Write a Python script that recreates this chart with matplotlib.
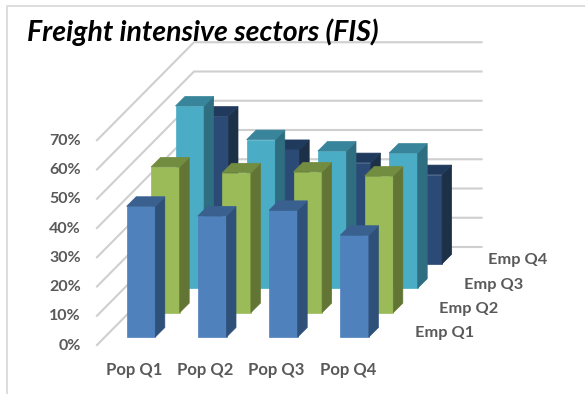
import matplotlib
matplotlib.use('Agg')
import matplotlib.pyplot as plt
from matplotlib.patches import Polygon

plt.rcParams['font.family'] = ['Lato', 'DejaVu Sans']

columns = ['Pop Q1', 'Pop Q2', 'Pop Q3', 'Pop Q4']
rows = ['Emp Q1', 'Emp Q2', 'Emp Q3', 'Emp Q4']
ticks = [0, 10, 20, 30, 40, 50, 60, 70]

emp_q1 = [44.7, 41.4, 43.3, 34.8]
emp_q2 = [49.8, 47.8, 48.1, 46.7]
emp_q3 = [62.3, 50.8, 46.9, 46.2]
emp_q4 = [50.5, 39.1, 34.6, 30.5]
series = [emp_q1, emp_q2, emp_q3, emp_q4]

# front, side and top colour of each row
colors = [('#4F81BD', '#2F5078', '#3A6090'),
          ('#9BBB59', '#637534', '#728C40'),
          ('#4BACC6', '#2E6E80', '#38849A'),
          ('#2B4A75', '#1C3048', '#1F3A5C')]

# oblique projection, in pixels
COL_STEP = 71.2
ROW_STEP = 24.4
BAR_W = 28.6
DEPTH = 9.5
UNIT = 2.925
X0, Y0 = 126.7, 337.0


def corner(col, row, value):
    x = X0 + col * COL_STEP + row * ROW_STEP
    y = Y0 - row * ROW_STEP - value * UNIT
    return x, y


def bar(ax, col, row, value, cols):
    x, y = corner(col, row, value)
    _, base = corner(col, row, 0)
    front = [(x, y), (x + BAR_W, y), (x + BAR_W, base), (x, base)]
    side = [(x + BAR_W, y), (x + BAR_W + DEPTH, y - DEPTH),
            (x + BAR_W + DEPTH, base - DEPTH), (x + BAR_W, base)]
    top = [(x, y), (x + DEPTH, y - DEPTH), (x + BAR_W + DEPTH, y - DEPTH), (x + BAR_W, y)]
    for pts, c in zip((front, side, top), cols):
        ax.add_patch(Polygon(pts, closed=True, fc=c, ec=c, lw=0.5, zorder=3 + row * -0.1))


fig = plt.figure(figsize=(5.85, 3.94), dpi=100)
ax = fig.add_axes([0, 0, 1, 1])
ax.set_xlim(0, 585)
ax.set_ylim(394, 0)
ax.axis('off')

# chart frame
ax.plot([7, 7, 585], [394, 6, 6], color='#DDDDDD', lw=1.4, zorder=1)

# walls
for t in ticks:
    y = 345 - t * UNIT
    ax.plot([97, 194, 481.5], [y, y - 98, y - 98], color='#CFCFCF', lw=1.5, zorder=2)
    ax.text(81, y + 0.5, '%d%%' % t, ha='right', va='center', fontsize=11.5,
            fontweight='bold', color='#595959')

for row in range(3, -1, -1):
    for col in range(4):
        bar(ax, col, row, series[row][col], colors[row])

for col, name in enumerate(columns):
    x = X0 + col * COL_STEP + 7.5
    ax.text(x, 369.5, name, ha='center', va='center', fontsize=12,
            fontweight='bold', color='#595959')

for row, name in enumerate(rows):
    ax.text(415 + row * ROW_STEP, 333 - row * 24.2, name, ha='left', va='center',
            fontsize=11.8, fontweight='bold', color='#595959')

ax.text(27, 32, 'Freight intensive sectors (FIS)', ha='left', va='center', fontsize=20.5,
        fontweight='bold', style='italic', color='black')

fig.savefig('out.png', dpi=100)
